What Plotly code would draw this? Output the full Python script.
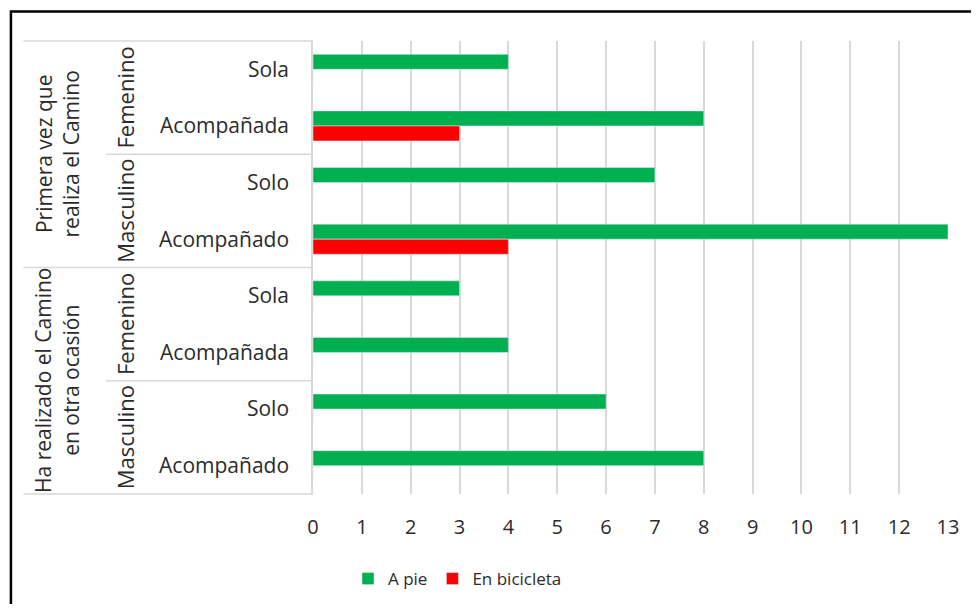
import plotly.graph_objects as go

# ---- data ----
level3 = ["Primera vez que<br>realiza el Camino"] * 4 + ["Ha realizado el Camino<br>en otra ocasión"] * 4
level2 = ["Femenino", "Femenino", "Masculino", "Masculino",
          "Femenino", "Femenino", "Masculino", "Masculino"]
level1 = ["Sola", "Acompañada", "Solo", "Acompañado",
          "Sola", "Acompañada", "Solo", "Acompañado"]
a_pie = [4, 8, 7, 13, 3, 4, 6, 8]
en_bici = [0, 3, 0, 4, 0, 0, 0, 0]
x_ticks = list(range(0, 14))

idx = list(range(len(level1)))
FONT = "Open Sans"
GREY = "#d9d9d9"
TXT = "#2b2b2b"

fig = go.Figure()
fig.add_trace(go.Bar(y=idx, x=a_pie, orientation="h", name="A pie",
                     marker=dict(color="#00B050")))
fig.add_trace(go.Bar(y=idx, x=en_bici, orientation="h", name="En bicicleta",
                     marker=dict(color="#FF0000")))

# page body has an 8px margin: figure coords = page coords - 8
OFF = 8
W, H = 979 - 2 * OFF, 612 - 2 * OFF
L, T = 313 - OFF, 41 - OFF
R = W - (951 - OFF)
B = H - (494 - OFF)
pw, ph = W - L - R, H - T - B

def px_x(p):
    return (p - OFF - L) / pw

def px_y(p):
    return (H - B - (p - OFF)) / ph

shapes = []
annotations = []

def groups(labels):
    out = []
    start = 0
    for i in range(1, len(labels) + 1):
        if i == len(labels) or labels[i] != labels[start]:
            out.append((start, i - 1, labels[start]))
            start = i
    return out

keys2 = [a + "|" + b for a, b in zip(level3, level2)]
for s, e, k in groups(keys2):
    annotations.append(dict(x=px_x(124), xref="paper", y=(s + e) / 2, yref="y",
                            text=k.split("|")[1], textangle=-90, showarrow=False,
                            font=dict(family=FONT, size=22, color=TXT),
                            xanchor="center", yanchor="middle"))
for s, e, k in groups(level3):
    annotations.append(dict(x=px_x(56), xref="paper", y=(s + e) / 2, yref="y",
                            text=k, textangle=-90, showarrow=False,
                            font=dict(family=FONT, size=21, color=TXT),
                            xanchor="center", yanchor="middle"))

n = len(level1)
for i in range(n + 1):
    if i == 0 or i == n:
        shapes.append(dict(type="line", xref="paper", yref="y domain", x0=px_x(22), x1=0,
                           y0=1 if i == 0 else 0, y1=1 if i == 0 else 0,
                           line=dict(color=GREY, width=1.5)))
    else:
        if level3[i] != level3[i - 1]:
            x0 = px_x(22)
        elif level2[i] != level2[i - 1]:
            x0 = px_x(105)
        else:
            continue
        shapes.append(dict(type="line", xref="paper", yref="y", x0=x0, x1=0,
                           y0=i - 0.5, y1=i - 0.5, line=dict(color=GREY, width=1.5)))

# outer chart border
shapes.append(dict(type="rect", xref="paper", yref="paper",
                   x0=px_x(9.5), x1=px_x(1000), y0=px_y(640), y1=px_y(11.5),
                   line=dict(color="black", width=2.5), fillcolor="rgba(0,0,0,0)",
                   layer="above"))

fig.update_layout(
    width=W, height=H,
    margin=dict(l=L, r=R, t=T, b=B),
    paper_bgcolor="white", plot_bgcolor="white",
    barmode="group", bargap=0.47, bargroupgap=0,
    font=dict(family=FONT, size=20, color=TXT),
    xaxis=dict(range=[0, 13], tickvals=x_ticks, showgrid=True, gridcolor=GREY,
               gridwidth=1.5, zeroline=False, showline=False, ticks="",
               ticklabelstandoff=19, tickfont=dict(family=FONT, size=20, color=TXT)),
    yaxis=dict(range=[n - 0.5, -0.5], tickvals=idx, ticktext=level1, showgrid=False,
               zeroline=False, showline=True, linecolor=GREY, linewidth=1.5,
               ticks="", ticklabelstandoff=18,
               tickfont=dict(family=FONT, size=21, color=TXT)),
    legend=dict(orientation="h", xref="container", yref="container",
                x=(348 - OFF) / W, xanchor="left", y=(H - (579 - OFF)) / H,
                yanchor="middle", font=dict(family=FONT, size=17, color=TXT),
                itemwidth=30, traceorder="normal"),
    shapes=shapes,
    annotations=annotations,
)

fig.write_html("out.html")
